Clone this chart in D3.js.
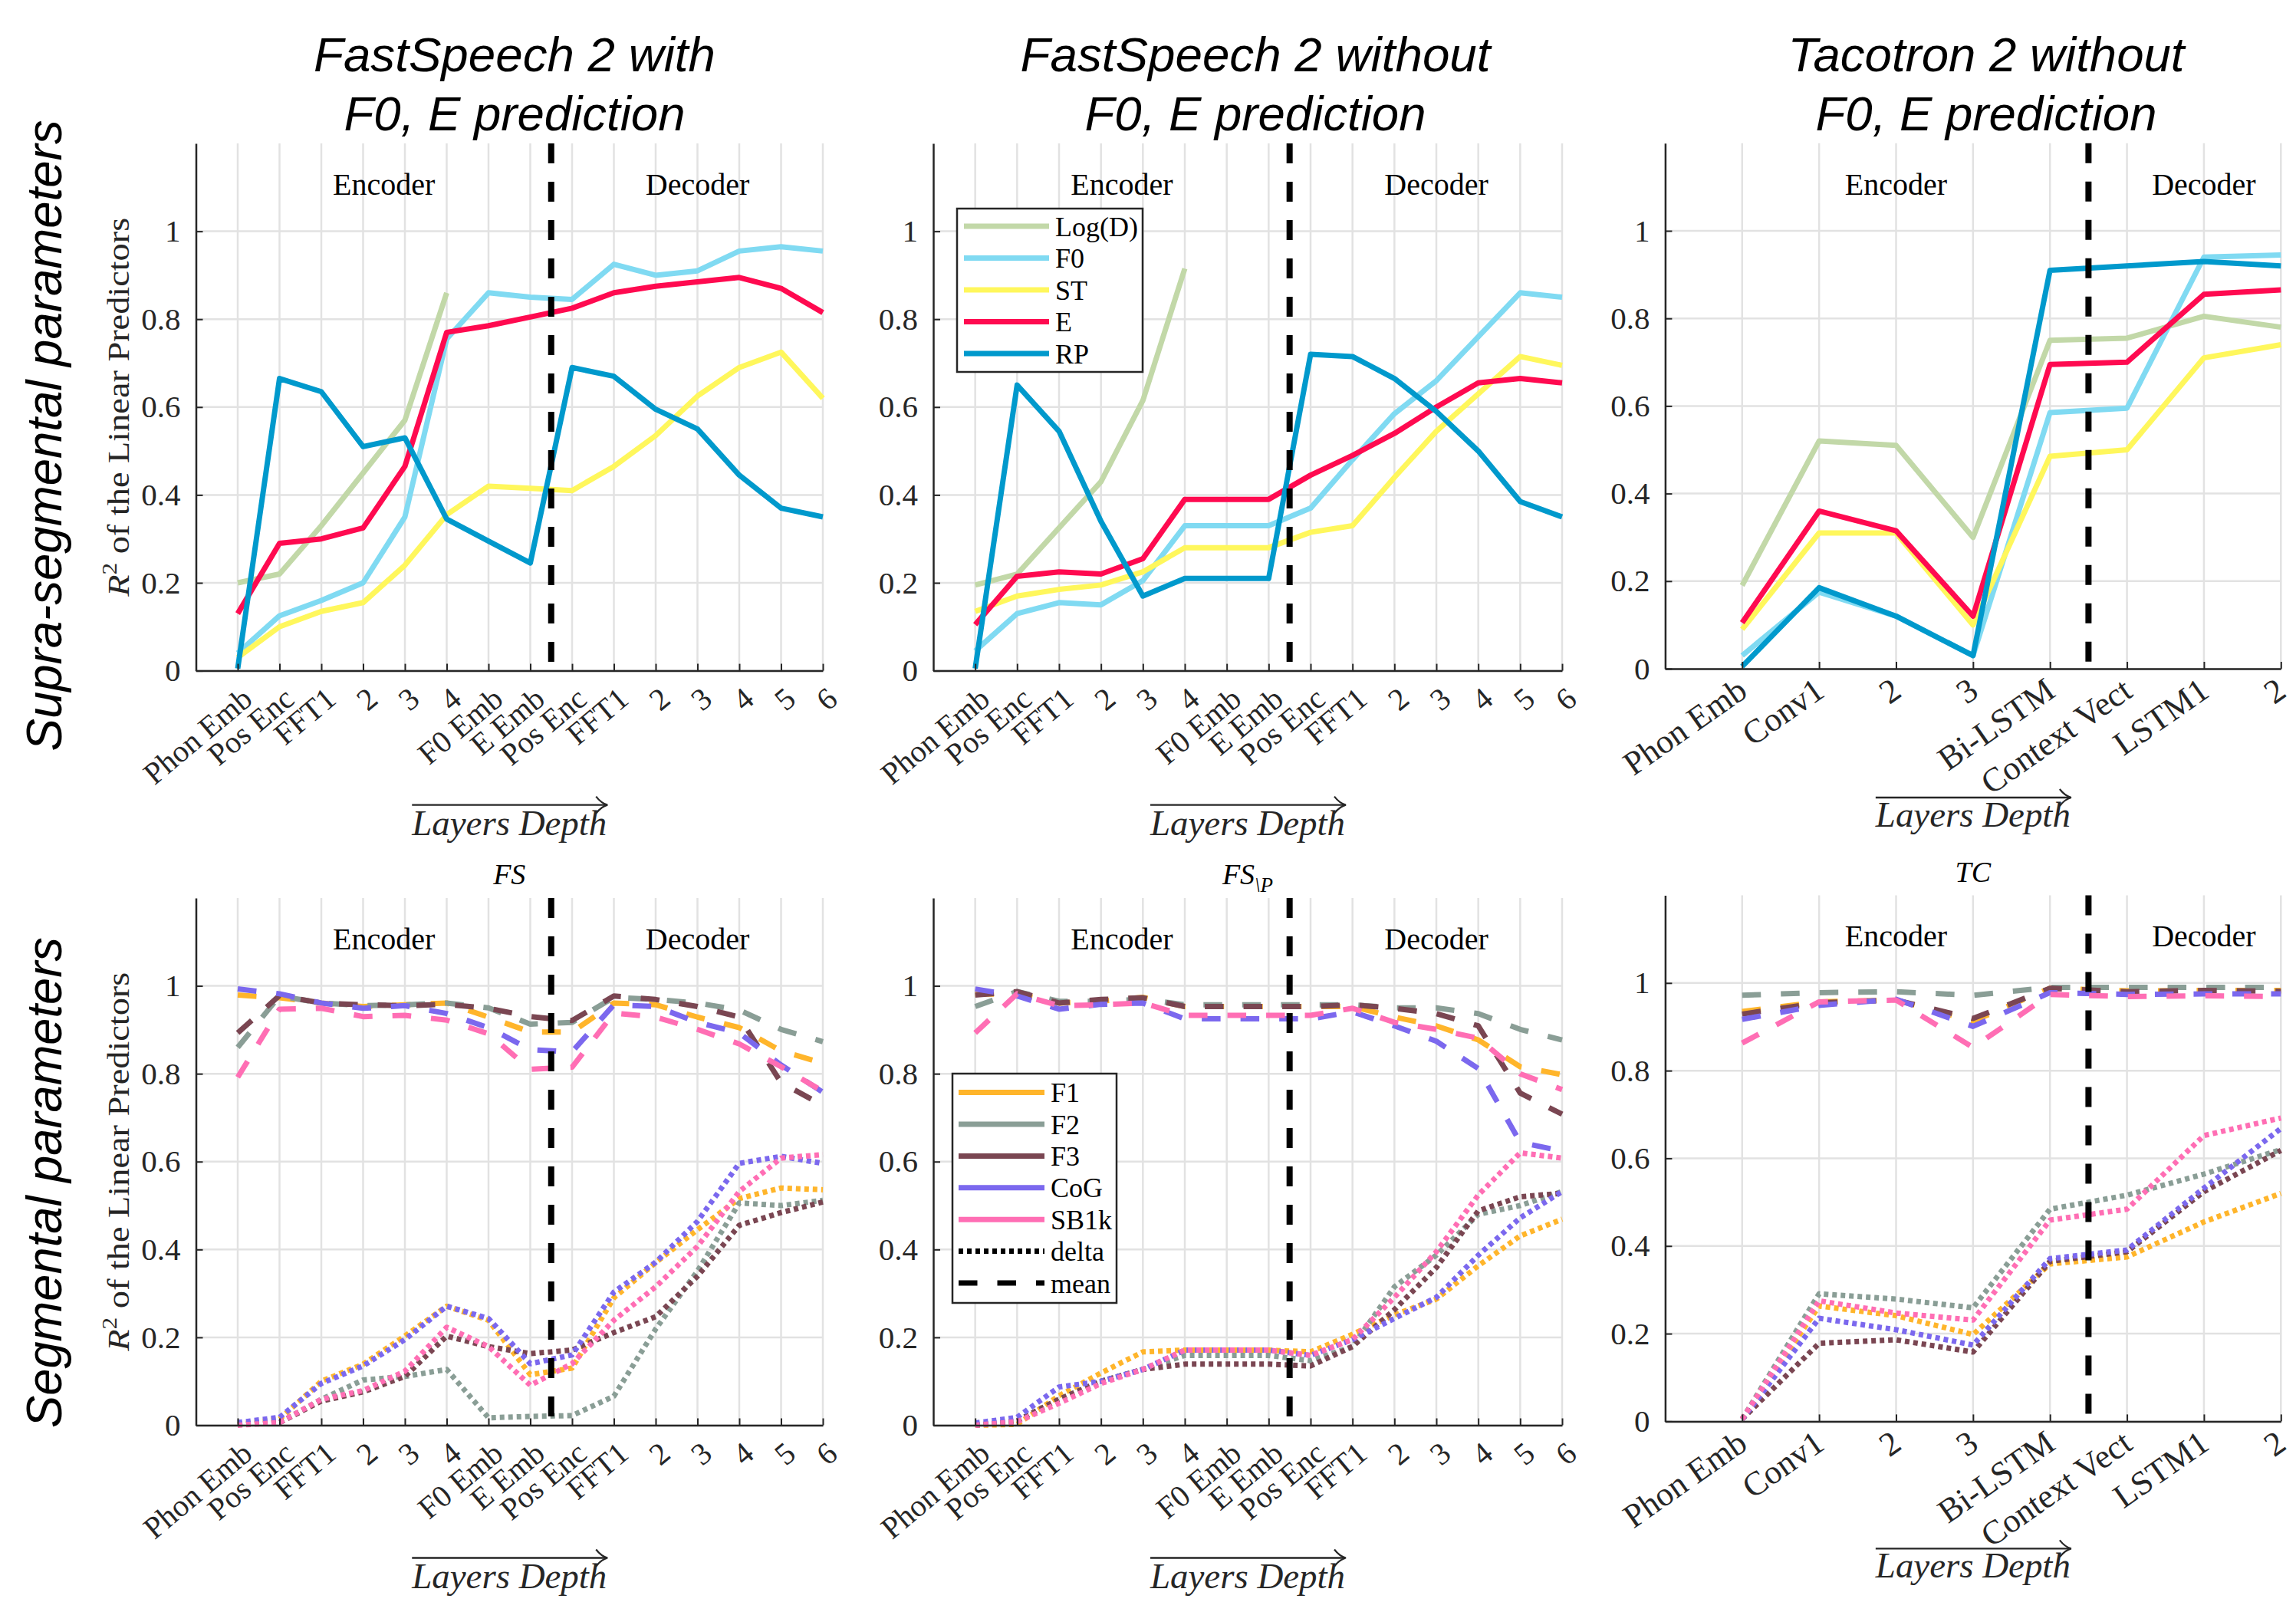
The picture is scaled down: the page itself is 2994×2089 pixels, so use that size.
<!DOCTYPE html>
<html><head><meta charset="utf-8">
<script src="https://cdn.jsdelivr.net/npm/d3@7"></script>
<style>html,body{margin:0;padding:0;background:#fff;}svg{display:block;}</style>
</head><body>
<svg id="chart" width="2994" height="2089"></svg>
<script>
// ---------------- DATA ----------------
const layersFS = ["Phon Emb","Pos Enc","FFT1","2","3","4","F0 Emb","E Emb","Pos Enc","FFT1","2","3","4","5","6"];
const layersTC = ["Phon Emb","Conv1","2","3","Bi-LSTM","Context Vect","LSTM1","2"];
const yTickValues = [0,0.2,0.4,0.6,0.8,1];

const titles = [["FastSpeech 2 with","F0, E prediction"],["FastSpeech 2 without","F0, E prediction"],["Tacotron 2 without","F0, E prediction"]];
const rowLabels = ["Supra-segmental parameters","Segmental parameters"];

const supraNames = ["Log(D)","F0","ST","E","RP"];
const segNames = ["F1","F2","F3","CoG","SB1k"];

// FastSpeech 2 with F0, E prediction (supra-segmental)
const fsWithLogD = [0.20,0.22,0.33,0.45,0.57,0.86];
const fsWithF0   = [0.04,0.125,0.16,0.20,0.35,0.755,0.86,0.85,0.845,0.925,0.90,0.91,0.955,0.965,0.955];
const fsWithST   = [0.03,0.10,0.135,0.155,0.24,0.355,0.42,0.415,0.41,0.465,0.535,0.625,0.69,0.725,0.62];
const fsWithE    = [0.13,0.29,0.30,0.325,0.465,0.77,0.785,0.805,0.825,0.86,0.875,0.885,0.895,0.87,0.815];
const fsWithRP   = [0.005,0.665,0.635,0.51,0.53,0.345,0.295,0.245,0.69,0.67,0.595,0.55,0.445,0.37,0.35];

// FastSpeech 2 without F0, E prediction (supra-segmental)
const fsNoLogD = [0.195,0.22,0.325,0.43,0.615,0.915];
const fsNoF0   = [0.045,0.13,0.155,0.15,0.205,0.33,0.33,0.33,0.37,0.48,0.585,0.66,0.76,0.86,0.85];
const fsNoST   = [0.135,0.17,0.185,0.195,0.225,0.28,0.28,0.28,0.315,0.33,0.44,0.545,0.63,0.715,0.695];
const fsNoE    = [0.105,0.215,0.225,0.22,0.255,0.39,0.39,0.39,0.445,0.49,0.54,0.60,0.655,0.665,0.655];
const fsNoRP   = [0.005,0.65,0.545,0.34,0.17,0.21,0.21,0.21,0.72,0.715,0.665,0.59,0.50,0.385,0.35];

// Tacotron 2 without F0, E prediction (supra-segmental)
const tcLogD = [0.19,0.52,0.51,0.30,0.75,0.755,0.805,0.78];
const tcF0   = [0.03,0.175,0.12,0.03,0.585,0.595,0.94,0.945];
const tcST   = [0.09,0.31,0.31,0.10,0.485,0.50,0.71,0.74];
const tcE    = [0.105,0.36,0.315,0.12,0.695,0.70,0.855,0.865];
const tcRP   = [0.005,0.185,0.12,0.03,0.91,0.92,0.93,0.92];

// FS (segmental) mean / delta
const fsMeanF1  = [0.979,0.973,0.961,0.953,0.957,0.961,0.929,0.895,0.895,0.961,0.957,0.929,0.905,0.852,0.824];
const fsMeanF2  = [0.86,0.977,0.961,0.955,0.957,0.961,0.95,0.913,0.917,0.974,0.969,0.961,0.945,0.901,0.873];
const fsMeanF3  = [0.893,0.978,0.961,0.957,0.955,0.958,0.949,0.93,0.921,0.977,0.969,0.953,0.929,0.78,0.728];
const fsMeanCoG = [0.993,0.982,0.961,0.949,0.955,0.937,0.905,0.855,0.85,0.957,0.953,0.917,0.893,0.82,0.758];
const fsMeanSB  = [0.792,0.947,0.949,0.93,0.933,0.922,0.891,0.81,0.815,0.938,0.929,0.901,0.868,0.816,0.76];
const fsDeltaF1  = [0.002,0.014,0.10,0.139,0.203,0.271,0.239,0.115,0.13,0.29,0.37,0.445,0.516,0.54,0.536];
const fsDeltaF2  = [0.002,0.006,0.059,0.103,0.111,0.127,0.017,0.02,0.022,0.066,0.219,0.351,0.506,0.50,0.512];
const fsDeltaF3  = [0.002,0.006,0.055,0.076,0.111,0.203,0.179,0.163,0.171,0.211,0.247,0.339,0.455,0.484,0.508];
const fsDeltaCoG = [0.006,0.018,0.095,0.135,0.195,0.271,0.243,0.14,0.16,0.303,0.371,0.464,0.596,0.612,0.596];
const fsDeltaSB  = [0.0,0.006,0.059,0.079,0.123,0.223,0.179,0.091,0.14,0.239,0.315,0.407,0.532,0.608,0.616];

// FS\P (segmental) mean / delta
const fspMeanF1  = [0.981,0.982,0.961,0.965,0.974,0.953,0.953,0.953,0.953,0.953,0.929,0.909,0.877,0.816,0.798];
const fspMeanF2  = [0.953,0.987,0.965,0.965,0.97,0.957,0.957,0.957,0.957,0.957,0.95,0.95,0.937,0.901,0.877];
const fspMeanF3  = [0.979,0.987,0.961,0.969,0.973,0.953,0.953,0.953,0.953,0.957,0.949,0.937,0.909,0.756,0.708];
const fspMeanCoG = [0.993,0.977,0.947,0.958,0.961,0.925,0.925,0.925,0.925,0.941,0.909,0.874,0.812,0.644,0.624];
const fspMeanSB  = [0.893,0.982,0.955,0.957,0.961,0.933,0.933,0.933,0.933,0.949,0.917,0.901,0.881,0.80,0.764];
const fspDeltaF1  = [0.0,0.002,0.067,0.119,0.167,0.171,0.171,0.171,0.167,0.207,0.251,0.287,0.363,0.431,0.469];
const fspDeltaF2  = [0.0,0.01,0.059,0.10,0.127,0.159,0.159,0.159,0.147,0.179,0.315,0.387,0.48,0.50,0.532];
const fspDeltaF3  = [0.0,0.01,0.059,0.10,0.127,0.139,0.139,0.139,0.135,0.179,0.263,0.359,0.488,0.52,0.528];
const fspDeltaCoG = [0.005,0.018,0.087,0.10,0.127,0.171,0.171,0.171,0.159,0.195,0.243,0.291,0.387,0.472,0.532];
const fspDeltaSB  = [0.0,0.008,0.05,0.095,0.127,0.171,0.171,0.171,0.159,0.195,0.291,0.395,0.524,0.62,0.608];

// TC (segmental) mean / delta
const tcMeanF1  = [0.935,0.957,0.961,0.913,0.988,0.982,0.983,0.983];
const tcMeanF2  = [0.972,0.978,0.98,0.972,0.99,0.99,0.99,0.99];
const tcMeanF3  = [0.929,0.955,0.961,0.919,0.988,0.98,0.983,0.981];
const tcMeanCoG = [0.917,0.949,0.963,0.901,0.978,0.974,0.975,0.975];
const tcMeanSB  = [0.863,0.957,0.961,0.853,0.974,0.969,0.971,0.969];
const tcDeltaF1  = [0.005,0.263,0.241,0.198,0.359,0.375,0.455,0.52];
const tcDeltaF2  = [0.005,0.291,0.279,0.259,0.484,0.516,0.564,0.62];
const tcDeltaF3  = [0.005,0.178,0.186,0.158,0.365,0.387,0.524,0.618];
const tcDeltaCoG = [0.005,0.235,0.209,0.174,0.371,0.391,0.532,0.668];
const tcDeltaSB  = [0.005,0.275,0.247,0.231,0.459,0.484,0.652,0.692];

// ---------------- STYLE ----------------
const supraColors = {"Log(D)":"#C2D8A8","F0":"#80DAF2","ST":"#FFF75C","E":"#FF0A50","RP":"#0099CC"};
const segColors = {"F1":"#FFB52B","F2":"#8A9E96","F3":"#7A4652","CoG":"#7B68EE","SB1k":"#FF6EB4"};
const SERIF = '"Liberation Serif","Times New Roman",serif';
const SANS = '"Liberation Sans",Arial,sans-serif';
const AX = "#262626";
const LW = 7;
const DASH = "24.5,26";
const DOT = "6,5";

const svg = d3.select("#chart");
svg.append("rect").attr("width",2994).attr("height",2089).attr("fill","#fff");

function supra(arrs){ return supraNames.map((n,k)=>({name:n,values:arrs[k],color:supraColors[n],dash:null})); }
function seg(means,deltas){
  const out=[];
  segNames.forEach((n,k)=>{ out.push({name:n,values:means[k],color:segColors[n],dash:DASH}); });
  segNames.forEach((n,k)=>{ out.push({name:n,values:deltas[k],color:segColors[n],dash:DOT}); });
  return out;
}

const FSX = {font:40.5, rot:40, dx:12, dy:30};
const TCX = {font:44, rot:35, dx:0, dy:22};

const panels = [
  {x0:255.5,x1:1073,y0:874.6,yTop:187,cats:layersFS,xl:FSX,sep:8.5,enc:4.5,dec:12.0,yLabel:true,arrow:175,base:214,
   series:supra([fsWithLogD,fsWithF0,fsWithST,fsWithE,fsWithRP])},
  {x0:1217,x1:2037,y0:874.6,yTop:187,cats:layersFS,xl:FSX,sep:8.5,enc:4.5,dec:12.0,yLabel:false,arrow:175,base:214,
   series:supra([fsNoLogD,fsNoF0,fsNoST,fsNoE,fsNoRP]),legend:"supra"},
  {x0:2171.4,x1:2974.3,y0:872,yTop:186.8,cats:layersTC,xl:TCX,sep:5.5,enc:3.0,dec:7.0,yLabel:false,arrow:168,base:206,
   series:supra([tcLogD,tcF0,tcST,tcE,tcRP])},
  {x0:255.5,x1:1073,y0:1858.5,yTop:1171,cats:layersFS,xl:FSX,sep:8.5,enc:4.5,dec:12.0,yLabel:true,arrow:173,base:212,sub:"FS",
   series:seg([fsMeanF1,fsMeanF2,fsMeanF3,fsMeanCoG,fsMeanSB],[fsDeltaF1,fsDeltaF2,fsDeltaF3,fsDeltaCoG,fsDeltaSB])},
  {x0:1217,x1:2037,y0:1858.5,yTop:1171,cats:layersFS,xl:FSX,sep:8.5,enc:4.5,dec:12.0,yLabel:false,arrow:173,base:212,sub:"FSP",legend:"seg",
   series:seg([fspMeanF1,fspMeanF2,fspMeanF3,fspMeanCoG,fspMeanSB],[fspDeltaF1,fspDeltaF2,fspDeltaF3,fspDeltaCoG,fspDeltaSB])},
  {x0:2171.4,x1:2974.3,y0:1853.4,yTop:1167.5,cats:layersTC,xl:TCX,sep:5.5,enc:3.0,dec:7.0,yLabel:false,arrow:166,base:204,sub:"TC",
   series:seg([tcMeanF1,tcMeanF2,tcMeanF3,tcMeanCoG,tcMeanSB],[tcDeltaF1,tcDeltaF2,tcDeltaF3,tcDeltaCoG,tcDeltaSB])}
];

function drawPanel(p){
  const n = p.cats.length;
  const x = d3.scaleLinear().domain([0,n]).range([p.x0,p.x1]);
  const y = d3.scaleLinear().domain([0,1.2]).range([p.y0,p.yTop]);
  const g = svg.append("g");
  // grid
  const grid = g.append("g").attr("stroke","#e2e2e2").attr("stroke-width",2.5);
  d3.range(1,n+1).forEach(i=>grid.append("line").attr("x1",x(i)).attr("x2",x(i)).attr("y1",y(0)).attr("y2",y(1.2)));
  yTickValues.forEach(v=>grid.append("line").attr("x1",x(0)).attr("x2",x(n)).attr("y1",y(v)).attr("y2",y(v)));

  // lines
  const line = d3.line().x((d,i)=>x(i+1)).y(d=>y(d));
  p.series.forEach(s=>{
    g.append("path").datum(s.values).attr("d",line).attr("fill","none")
      .attr("stroke",s.color).attr("stroke-width",LW)
      .attr("stroke-linejoin","round")
      .attr("stroke-dasharray",s.dash).attr("stroke-linecap","butt");
  });

  // separator
  g.append("line").attr("x1",x(p.sep)).attr("x2",x(p.sep)).attr("y1",y(1.2)).attr("y2",y(0))
    .attr("stroke","#000").attr("stroke-width",8).attr("stroke-dasharray","26,24");

  // encoder / decoder
  [["Encoder",p.enc],["Decoder",p.dec]].forEach(([t,v])=>{
    g.append("text").attr("x",x(v)).attr("y",y(1.083)).attr("text-anchor","middle")
      .attr("font-family",SERIF).attr("font-size",40).attr("fill","#000").text(t);
  });

  // axes
  const gx = g.append("g").attr("transform",`translate(0,${p.y0})`)
    .call(d3.axisBottom(x).tickValues(d3.range(1,n+1)).tickFormat(i=>p.cats[i-1]).tickSize(-9).tickSizeOuter(0));
  gx.select(".domain").attr("stroke",AX).attr("stroke-width",2.5);
  gx.selectAll(".tick line").attr("stroke",AX).attr("stroke-width",2);
  gx.selectAll(".tick text").attr("y",0).attr("dy","0.35em").attr("x",0)
    .attr("transform",`translate(${p.xl.dx},${p.xl.dy}) rotate(-${p.xl.rot})`).attr("text-anchor","end")
    .attr("font-family",SERIF).attr("font-size",p.xl.font).attr("fill",AX);

  const gy = g.append("g").attr("transform",`translate(${p.x0},0)`)
    .call(d3.axisLeft(y).tickValues(yTickValues).tickFormat(d=>d===0?"0":d===1?"1":d3.format(".1f")(d)).tickSize(-9).tickSizeOuter(0).tickPadding(20));
  gy.select(".domain").attr("stroke",AX).attr("stroke-width",2.5);
  gy.selectAll(".tick line").attr("stroke",AX).attr("stroke-width",2);
  gy.selectAll(".tick text").attr("font-family",SERIF).attr("font-size",41).attr("fill",AX);

  // y label
  if(p.yLabel){
    const cy = (p.y0+p.yTop)/2;
    const t = svg.append("text").attr("transform",`translate(168,${cy}) rotate(-90)`)
      .attr("text-anchor","middle").attr("font-family",SERIF).attr("font-size",40).attr("fill",AX)
      .attr("textLength",494).attr("lengthAdjust","spacingAndGlyphs");
    t.append("tspan").attr("font-style","italic").text("R");
    t.append("tspan").attr("font-size",27).attr("dy",-16).text("2");
    t.append("tspan").attr("dy",16).text(" of the Linear Predictors");
  }

  // Layers depth
  const cx = (p.x0+p.x1)/2;
  const ay = p.y0 + p.arrow;
  svg.append("path").attr("d",`M${cx-127},${ay}H${cx+127}`).attr("stroke",AX).attr("stroke-width",2.4).attr("fill","none");
  svg.append("path").attr("d",`M${cx+113},${ay-11} Q${cx+120},${ay-2} ${cx+128},${ay} Q${cx+120},${ay+2} ${cx+113},${ay+11}`)
    .attr("stroke",AX).attr("stroke-width",2.2).attr("fill","none");
  svg.append("text").attr("x",cx).attr("y",p.y0+p.base).attr("text-anchor","middle")
    .attr("font-family",SERIF).attr("font-style","italic").attr("font-size",46).attr("fill",AX)
    .attr("textLength",254).attr("lengthAdjust","spacingAndGlyphs").text("Layers Depth");

  // subtitle
  if(p.sub){
    const st = svg.append("text").attr("x",cx).attr("y",p.yTop-18).attr("text-anchor","middle")
      .attr("font-family",SERIF).attr("font-style","italic").attr("font-size",38).attr("fill","#000");
    if(p.sub==="FSP"){
      st.append("tspan").text("FS");
      st.append("tspan").attr("font-size",27).attr("dy",10).text("\\P");
    } else st.text(p.sub);
  }

  // legend
  if(p.legend==="supra") drawLegend(1248,272,242,213,295,41.5,1257,1368,1376,
      supraNames.map(nm=>({label:nm,color:supraColors[nm],dash:null})));
  if(p.legend==="seg") drawLegend(1242,1400,214,299,1424.6,41.4,1250,1362,1370,
      segNames.map(nm=>({label:nm,color:segColors[nm],dash:null}))
        .concat([{label:"delta",color:"#000",dash:DOT},{label:"mean",color:"#000",dash:DASH}]));
}

function drawLegend(bx,by,bw,bh,r0,dr,lx0,lx1,tx,items){
  const lg = svg.append("g");
  lg.append("rect").attr("x",bx).attr("y",by).attr("width",bw).attr("height",bh)
    .attr("fill","#fff").attr("stroke",AX).attr("stroke-width",2.5);
  items.forEach((it,k)=>{
    const yy = r0 + k*dr;
    lg.append("line").attr("x1",lx0).attr("x2",lx1).attr("y1",yy).attr("y2",yy)
      .attr("stroke",it.color).attr("stroke-width",LW).attr("stroke-dasharray",it.dash);
    lg.append("text").attr("x",tx).attr("y",yy).attr("dy","0.35em")
      .attr("font-family",SERIF).attr("font-size",36).attr("fill","#000").text(it.label);
  });
}

panels.forEach(drawPanel);

// titles
const titleCenters = [671,1637,2590];
const titleLens = [[524,445],[613,445],[517,445]];
titles.forEach((tl,c)=>{
  tl.forEach((line,k)=>{
    svg.append("text").attr("x",titleCenters[c]).attr("y",k===0?93:170).attr("text-anchor","middle")
      .attr("font-family",SANS).attr("font-style","italic").attr("font-size",63).attr("fill","#000")
      .attr("textLength",titleLens[c][k]).attr("lengthAdjust","spacingAndGlyphs").text(line);
  });
});

// row labels
[[rowLabels[0],568,823],[rowLabels[1],1542,640]].forEach(([t,cy,len])=>{
  svg.append("text").attr("transform",`translate(80,${cy}) rotate(-90)`).attr("text-anchor","middle")
    .attr("font-family",SANS).attr("font-style","italic").attr("font-size",64).attr("fill","#000")
    .attr("textLength",len).attr("lengthAdjust","spacingAndGlyphs").text(t);
});
</script>
</body></html>
